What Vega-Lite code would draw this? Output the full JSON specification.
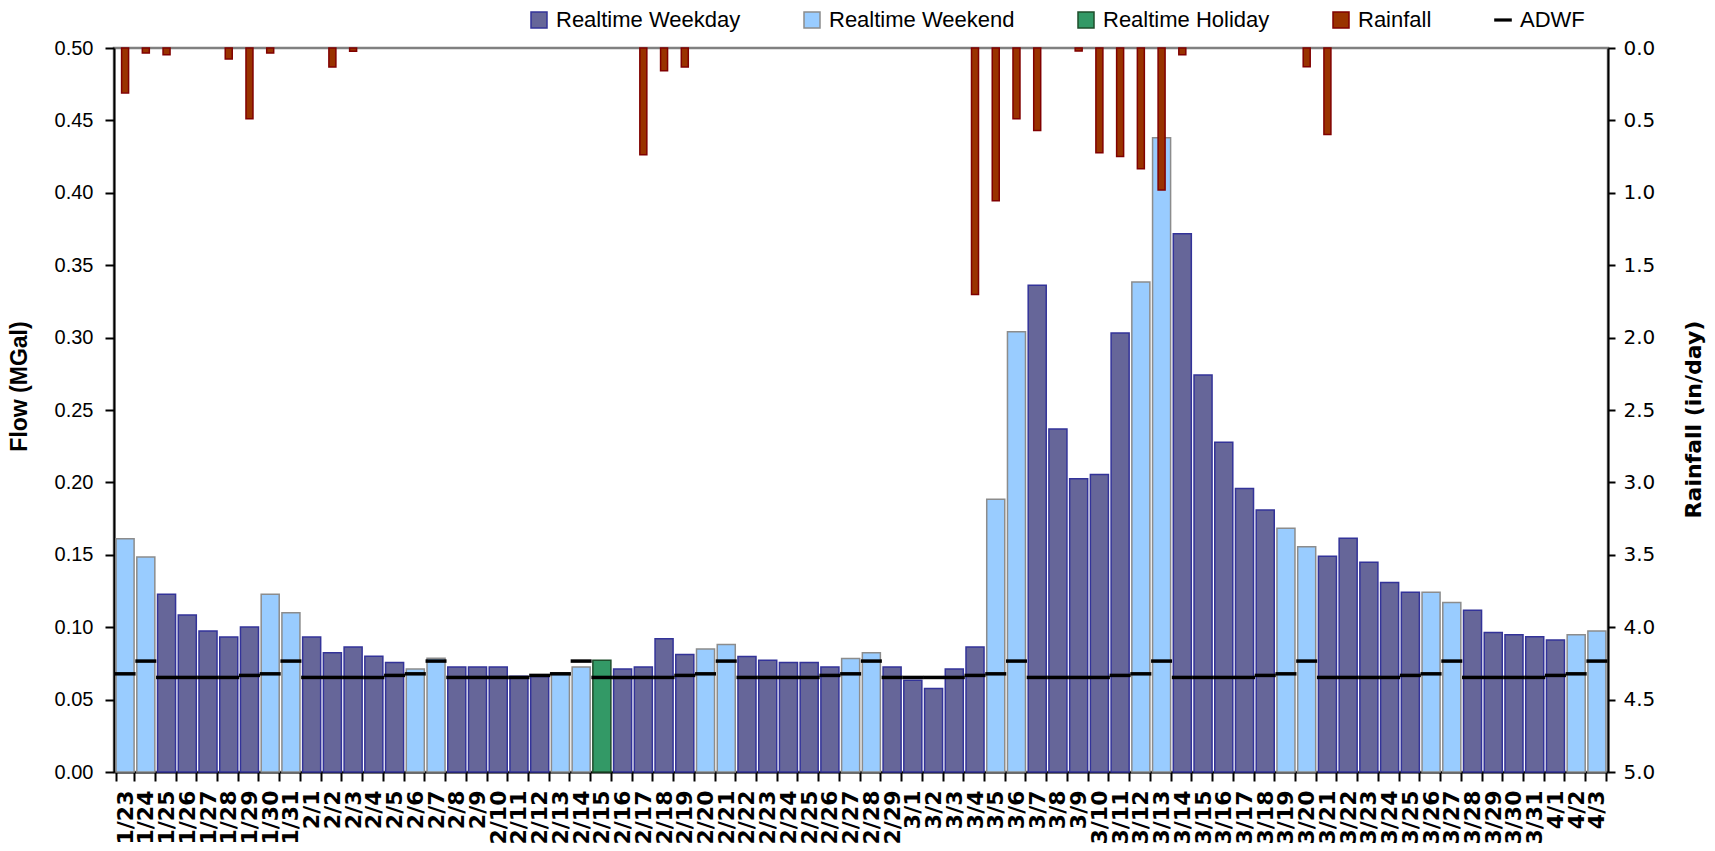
{
  "$schema": "https://vega.github.io/schema/vega-lite/v6.json",
  "width": 1494,
  "height": 724,
  "autosize": {"type": "none"},
  "padding": {"left": 114, "top": 48, "right": 107, "bottom": 79},
  "background": "white",
  "config": {
    "view": {"stroke": "#808080", "strokeWidth": 2.5},
    "axis": {"grid": false, "labelColor": "#000000", "titleColor": "#000000", "domainColor": "#000000", "tickColor": "#000000", "domainWidth": 2, "tickWidth": 2}
  },
  "data": {
    "values": [
      {"date": "1/23", "type": "Realtime Weekend", "flow": 0.161, "adwf": 0.0678, "rain": 0.31},
      {"date": "1/24", "type": "Realtime Weekend", "flow": 0.1485, "adwf": 0.0766, "rain": 0.035},
      {"date": "1/25", "type": "Realtime Weekday", "flow": 0.1227, "adwf": 0.0653, "rain": 0.046},
      {"date": "1/26", "type": "Realtime Weekday", "flow": 0.1084, "adwf": 0.0653, "rain": null},
      {"date": "1/27", "type": "Realtime Weekday", "flow": 0.0974, "adwf": 0.0653, "rain": null},
      {"date": "1/28", "type": "Realtime Weekday", "flow": 0.0932, "adwf": 0.0653, "rain": 0.076},
      {"date": "1/29", "type": "Realtime Weekday", "flow": 0.1001, "adwf": 0.0667, "rain": 0.488},
      {"date": "1/30", "type": "Realtime Weekend", "flow": 0.1227, "adwf": 0.0678, "rain": 0.035},
      {"date": "1/31", "type": "Realtime Weekend", "flow": 0.110, "adwf": 0.0766, "rain": null},
      {"date": "2/1", "type": "Realtime Weekday", "flow": 0.0932, "adwf": 0.0653, "rain": null},
      {"date": "2/2", "type": "Realtime Weekday", "flow": 0.0824, "adwf": 0.0653, "rain": 0.131},
      {"date": "2/3", "type": "Realtime Weekday", "flow": 0.0863, "adwf": 0.0653, "rain": 0.023},
      {"date": "2/4", "type": "Realtime Weekday", "flow": 0.0799, "adwf": 0.0653, "rain": null},
      {"date": "2/5", "type": "Realtime Weekday", "flow": 0.0757, "adwf": 0.0667, "rain": null},
      {"date": "2/6", "type": "Realtime Weekend", "flow": 0.0711, "adwf": 0.0678, "rain": null},
      {"date": "2/7", "type": "Realtime Weekend", "flow": 0.0785, "adwf": 0.0766, "rain": null},
      {"date": "2/8", "type": "Realtime Weekday", "flow": 0.0725, "adwf": 0.0653, "rain": null},
      {"date": "2/9", "type": "Realtime Weekday", "flow": 0.0725, "adwf": 0.0653, "rain": null},
      {"date": "2/10", "type": "Realtime Weekday", "flow": 0.0725, "adwf": 0.0653, "rain": null},
      {"date": "2/11", "type": "Realtime Weekday", "flow": 0.0661, "adwf": 0.0653, "rain": null},
      {"date": "2/12", "type": "Realtime Weekday", "flow": 0.066, "adwf": 0.0667, "rain": null},
      {"date": "2/13", "type": "Realtime Weekend", "flow": 0.0686, "adwf": 0.0678, "rain": null},
      {"date": "2/14", "type": "Realtime Weekend", "flow": 0.0725, "adwf": 0.0766, "rain": null},
      {"date": "2/15", "type": "Realtime Holiday", "flow": 0.0771, "adwf": 0.0653, "rain": null},
      {"date": "2/16", "type": "Realtime Weekday", "flow": 0.0711, "adwf": 0.0653, "rain": null},
      {"date": "2/17", "type": "Realtime Weekday", "flow": 0.0725, "adwf": 0.0653, "rain": 0.737},
      {"date": "2/18", "type": "Realtime Weekday", "flow": 0.0921, "adwf": 0.0653, "rain": 0.157},
      {"date": "2/19", "type": "Realtime Weekday", "flow": 0.0811, "adwf": 0.0667, "rain": 0.131},
      {"date": "2/20", "type": "Realtime Weekend", "flow": 0.0850, "adwf": 0.0678, "rain": null},
      {"date": "2/21", "type": "Realtime Weekend", "flow": 0.0880, "adwf": 0.0766, "rain": null},
      {"date": "2/22", "type": "Realtime Weekday", "flow": 0.0797, "adwf": 0.0653, "rain": null},
      {"date": "2/23", "type": "Realtime Weekday", "flow": 0.0771, "adwf": 0.0653, "rain": null},
      {"date": "2/24", "type": "Realtime Weekday", "flow": 0.0757, "adwf": 0.0653, "rain": null},
      {"date": "2/25", "type": "Realtime Weekday", "flow": 0.0757, "adwf": 0.0653, "rain": null},
      {"date": "2/26", "type": "Realtime Weekday", "flow": 0.0725, "adwf": 0.0667, "rain": null},
      {"date": "2/27", "type": "Realtime Weekend", "flow": 0.0783, "adwf": 0.0678, "rain": null},
      {"date": "2/28", "type": "Realtime Weekend", "flow": 0.0824, "adwf": 0.0766, "rain": null},
      {"date": "2/29", "type": "Realtime Weekday", "flow": 0.0725, "adwf": 0.0653, "rain": null},
      {"date": "3/1", "type": "Realtime Weekday", "flow": 0.0633, "adwf": 0.0653, "rain": null},
      {"date": "3/2", "type": "Realtime Weekday", "flow": 0.0576, "adwf": 0.0653, "rain": null},
      {"date": "3/3", "type": "Realtime Weekday", "flow": 0.0711, "adwf": 0.0653, "rain": null},
      {"date": "3/4", "type": "Realtime Weekday", "flow": 0.0863, "adwf": 0.0667, "rain": 1.703},
      {"date": "3/5", "type": "Realtime Weekend", "flow": 0.1883, "adwf": 0.0678, "rain": 1.055},
      {"date": "3/6", "type": "Realtime Weekend", "flow": 0.304, "adwf": 0.0766, "rain": 0.488},
      {"date": "3/7", "type": "Realtime Weekday", "flow": 0.3361, "adwf": 0.0653, "rain": 0.569},
      {"date": "3/8", "type": "Realtime Weekday", "flow": 0.2369, "adwf": 0.0653, "rain": null},
      {"date": "3/9", "type": "Realtime Weekday", "flow": 0.2026, "adwf": 0.0653, "rain": 0.021},
      {"date": "3/10", "type": "Realtime Weekday", "flow": 0.2054, "adwf": 0.0653, "rain": 0.724},
      {"date": "3/11", "type": "Realtime Weekday", "flow": 0.3032, "adwf": 0.0667, "rain": 0.749},
      {"date": "3/12", "type": "Realtime Weekend", "flow": 0.3384, "adwf": 0.0678, "rain": 0.834},
      {"date": "3/13", "type": "Realtime Weekend", "flow": 0.4381, "adwf": 0.0766, "rain": 0.98},
      {"date": "3/14", "type": "Realtime Weekday", "flow": 0.3718, "adwf": 0.0653, "rain": 0.046},
      {"date": "3/15", "type": "Realtime Weekday", "flow": 0.2742, "adwf": 0.0653, "rain": null},
      {"date": "3/16", "type": "Realtime Weekday", "flow": 0.2277, "adwf": 0.0653, "rain": null},
      {"date": "3/17", "type": "Realtime Weekday", "flow": 0.1958, "adwf": 0.0653, "rain": null},
      {"date": "3/18", "type": "Realtime Weekday", "flow": 0.1809, "adwf": 0.0667, "rain": null},
      {"date": "3/19", "type": "Realtime Weekend", "flow": 0.1684, "adwf": 0.0678, "rain": null},
      {"date": "3/20", "type": "Realtime Weekend", "flow": 0.1555, "adwf": 0.0766, "rain": 0.129},
      {"date": "3/21", "type": "Realtime Weekday", "flow": 0.149, "adwf": 0.0653, "rain": 0.598},
      {"date": "3/22", "type": "Realtime Weekday", "flow": 0.1615, "adwf": 0.0653, "rain": null},
      {"date": "3/23", "type": "Realtime Weekday", "flow": 0.1449, "adwf": 0.0653, "rain": null},
      {"date": "3/24", "type": "Realtime Weekday", "flow": 0.1308, "adwf": 0.0653, "rain": null},
      {"date": "3/25", "type": "Realtime Weekday", "flow": 0.1241, "adwf": 0.0667, "rain": null},
      {"date": "3/26", "type": "Realtime Weekend", "flow": 0.1241, "adwf": 0.0678, "rain": null},
      {"date": "3/27", "type": "Realtime Weekend", "flow": 0.117, "adwf": 0.0766, "rain": null},
      {"date": "3/28", "type": "Realtime Weekday", "flow": 0.1117, "adwf": 0.0653, "rain": null},
      {"date": "3/29", "type": "Realtime Weekday", "flow": 0.0964, "adwf": 0.0653, "rain": null},
      {"date": "3/30", "type": "Realtime Weekday", "flow": 0.0948, "adwf": 0.0653, "rain": null},
      {"date": "3/31", "type": "Realtime Weekday", "flow": 0.0934, "adwf": 0.0653, "rain": null},
      {"date": "4/1", "type": "Realtime Weekday", "flow": 0.0911, "adwf": 0.0667, "rain": null},
      {"date": "4/2", "type": "Realtime Weekend", "flow": 0.0948, "adwf": 0.0678, "rain": null},
      {"date": "4/3", "type": "Realtime Weekend", "flow": 0.0973, "adwf": 0.0766, "rain": null}
    ]
  },
  "encoding": {
    "x": {
      "field": "date", "type": "nominal", "sort": null,
      "scale": {"paddingInner": 0.13, "paddingOuter": 0.1},
      "axis": {
        "title": null, "labelAngle": 270, "labelFont": "DejaVu Sans", "labelFontSize": 22, "labelFontWeight": "bold",
        "labelOverlap": false, "labelPadding": 9, "tickSize": 9, "tickBand": "extent", "labelLimit": 300,
        "encode": {"ticks": {"update": {"y": {"value": -7}}}}
      }
    }
  },
  "layer": [
    {
      "layer": [
        {
          "mark": {"type": "bar", "strokeWidth": 1.5},
          "encoding": {
            "y": {
              "field": "flow", "type": "quantitative",
              "scale": {"domain": [0, 0.5], "nice": false},
              "axis": {
                "title": "Flow (MGal)", "values": [0, 0.05, 0.1, 0.15, 0.2, 0.25, 0.3, 0.35, 0.4, 0.45, 0.5], "format": ".2f",
                "labelFont": "Liberation Sans", "labelFontSize": 20, "labelPadding": 12, "tickSize": 9,
                "titleFont": "Liberation Sans", "titleFontSize": 23, "titleFontWeight": "bold",
                "titleAngle": 270, "titleX": -83, "titleY": 338, "titleAlign": "center", "titleBaseline": "bottom",
                "encode": {"ticks": {"update": {"x": {"value": 8}}}}
              }
            },
            "color": {
              "field": "type", "type": "nominal",
              "scale": {
                "domain": ["Realtime Weekday", "Realtime Weekend", "Realtime Holiday", "Rainfall", "ADWF"],
                "range": ["#666699", "#99CCFF", "#339966", "#993300", "#000000"]
              },
              "legend": {
                "title": null, "orient": "none", "direction": "horizontal", "legendX": 414, "legendY": -39,
                "labelFont": "Liberation Sans", "labelFontSize": 22, "labelColor": "#000000", "labelOffset": 6,
                "labelLimit": 400,
                "symbolSize": 256, "columnPadding": 60, "symbolStrokeWidth": 1.5,
                "encode": {
                  "symbols": {
                    "update": {
                      "shape": {"signal": "datum.value === 'ADWF' ? 'M-1.1,-0.2H1.1V0.2H-1.1Z' : 'square'"},
                      "fill": {"signal": "datum.value === 'Realtime Weekday' ? '#666699' : datum.value === 'Realtime Weekend' ? '#99CCFF' : datum.value === 'Realtime Holiday' ? '#339966' : datum.value === 'Rainfall' ? '#993300' : '#000000'"},
                      "stroke": {"signal": "datum.value === 'Realtime Weekday' ? '#333399' : datum.value === 'Realtime Weekend' ? '#8c8c8c' : datum.value === 'Realtime Holiday' ? '#1e4d2b' : datum.value === 'Rainfall' ? '#800000' : '#000000'"},
                      "strokeWidth": {"signal": "datum.value === 'ADWF' ? 0 : 1.5"},
                      "opacity": {"value": 1},
                      "fillOpacity": {"value": 1}
                    }
                  }
                }
              }
            },
            "stroke": {
              "field": "type", "type": "nominal",
              "scale": {"domain": ["Realtime Weekday", "Realtime Weekend", "Realtime Holiday"], "range": ["#333399", "#8c8c8c", "#1e4d2b"]},
              "legend": null
            }
          }
        },
        {
          "mark": {"type": "tick", "thickness": 3.5, "size": 21, "opacity": 1},
          "encoding": {
            "y": {"field": "adwf", "type": "quantitative"},
            "color": {"datum": "ADWF", "type": "nominal"}
          }
        }
      ]
    },
    {
      "mark": {"type": "bar", "size": 7, "stroke": "#800000", "strokeWidth": 1.5, "opacity": 1},
      "encoding": {
        "y": {
          "field": "rain", "type": "quantitative",
          "scale": {"domain": [0, 5], "reverse": true, "nice": false},
          "axis": {
            "orient": "right", "title": "Rainfall (in/day)", "values": [0, 0.5, 1, 1.5, 2, 2.5, 3, 3.5, 4, 4.5, 5], "format": ".1f",
            "labelFont": "DejaVu Sans", "labelFontSize": 20, "labelPadding": 8, "tickSize": 7,
            "titleFont": "DejaVu Sans", "titleFontSize": 22, "titleFontWeight": "bold",
            "titleAngle": 270, "titleX": 97, "titleY": 371, "titleAlign": "center", "titleBaseline": "bottom",
            "encode": {"ticks": {"update": {"x": {"value": -7}}}}
          }
        },
        "color": {"datum": "Rainfall", "type": "nominal"}
      }
    }
  ],
  "resolve": {"scale": {"y": "independent"}}
}
